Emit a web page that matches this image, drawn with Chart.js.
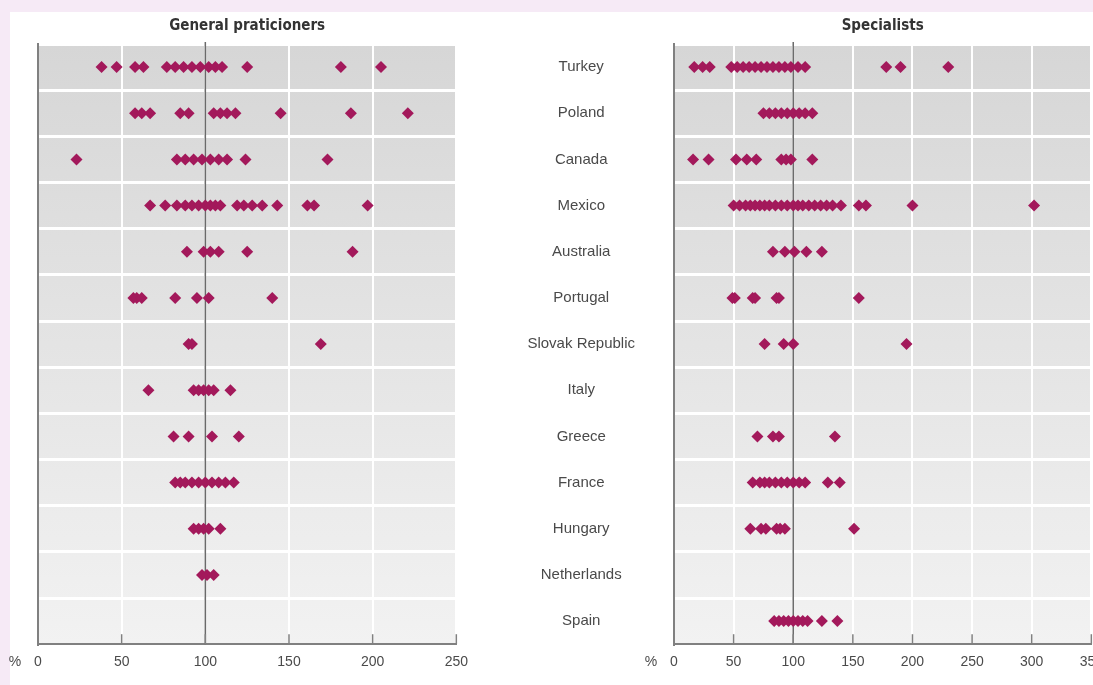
<!DOCTYPE html>
<html>
<head>
<meta charset="utf-8">
<script src="https://cdn.jsdelivr.net/npm/chart.js@4.4.1/dist/chart.umd.min.js"></script>
<style>
    html, body { margin: 0; padding: 0; }
    body { width: 1093px; height: 685px; overflow: hidden; position: relative; background: #f6eaf6; font-family: "Liberation Sans", Arial, sans-serif; }
    #sheet { position: absolute; left: 10px; top: 12px; right: 0; bottom: 0; background: #fff; }
    canvas { position: absolute; top: 0; }
    #gpChart { left: 0; }
    #specChart { left: 470px; }
</style>
</head>
<body>
<div id="sheet"></div>
<canvas id="gpChart" width="478" height="685"></canvas>
<canvas id="specChart" width="643" height="685"></canvas>
<script>
// ---- data (% of national average, one row per country) ----
const countries = ['Turkey', 'Poland', 'Canada', 'Mexico', 'Australia', 'Portugal', 'Slovak Republic',
    'Italy', 'Greece', 'France', 'Hungary', 'Netherlands', 'Spain'];

const gpValues = [
    [38, 47, 58, 63, 77, 82, 87, 92, 97, 102, 106, 110, 125, 181, 205],        // Turkey
    [58, 62, 67, 85, 90, 105, 109, 113, 118, 145, 187, 221],                   // Poland
    [23, 83, 88, 93, 98, 103, 108, 113, 124, 173],                             // Canada
    [67, 76, 83, 88, 92, 96, 100, 103, 106, 109, 119, 123, 128, 134, 143, 161, 165, 197], // Mexico
    [89, 99, 103, 108, 125, 188],                                              // Australia
    [57, 59, 62, 82, 95, 102, 140],                                            // Portugal
    [90, 92, 169],                                                             // Slovak Republic
    [66, 93, 96, 99, 102, 105, 115],                                           // Italy
    [81, 90, 104, 120],                                                        // Greece
    [82, 85, 88, 92, 96, 100, 104, 108, 112, 117],                             // France
    [93, 96, 99, 102, 109],                                                    // Hungary
    [98, 101, 105],                                                            // Netherlands
    []                                                                         // Spain
];

const specValues = [
    [17, 24, 30, 48, 53, 58, 63, 68, 73, 78, 83, 88, 93, 98, 104, 110, 178, 190, 230], // Turkey
    [75, 80, 85, 90, 95, 100, 105, 110, 116],                                  // Poland
    [16, 29, 52, 61, 69, 90, 94, 98, 116],                                     // Canada
    [50, 55, 60, 64, 68, 72, 76, 80, 85, 90, 95, 100, 104, 108, 113, 118, 123, 128, 133, 140, 155, 161, 200, 302], // Mexico
    [83, 93, 101, 111, 124],                                                   // Australia
    [49, 51, 66, 68, 86, 88, 155],                                             // Portugal
    [76, 92, 100, 195],                                                        // Slovak Republic
    [],                                                                        // Italy
    [70, 83, 88, 135],                                                         // Greece
    [66, 72, 76, 80, 85, 90, 95, 100, 105, 110, 129, 139],                     // France
    [64, 73, 77, 86, 89, 93, 151],                                             // Hungary
    [],                                                                        // Netherlands
    [84, 88, 92, 96, 100, 104, 108, 112, 124, 137]                             // Spain
];

const gpTicks = [0, 50, 100, 150, 200, 250];
const specTicks = [0, 50, 100, 150, 200, 250, 300, 350];
const referenceValue = 100;

const MARKER = '#a3195b';
const AXIS = '#808080';
const TEXT = '#4a4a4a';

function toPoints(rows) {
    return rows.flatMap((row, i) => row.map(v => ({ x: v, y: countries[i] })));
}

// grey band background, 100% line, inward tick marks and the % sign
const panelDecor = {
    id: 'panelDecor',
    beforeDraw(chart) {
        const { ctx, chartArea: a } = chart;
        const g = ctx.createLinearGradient(0, a.top, 0, a.bottom);
        g.addColorStop(0, '#d6d6d6');
        g.addColorStop(1, '#f2f2f2');
        ctx.save();
        ctx.fillStyle = g;
        ctx.fillRect(a.left, a.top, a.right - a.left, a.bottom - a.top);
        ctx.restore();
    },
    beforeDatasetsDraw(chart) {
        const { ctx, chartArea: a } = chart;
        const x = chart.scales.x.getPixelForValue(referenceValue);
        ctx.save();
        ctx.strokeStyle = '#6a6a6a';
        ctx.lineWidth = 1.5;
        ctx.beginPath();
        ctx.moveTo(x, a.top - 2);
        ctx.lineTo(x, a.bottom);
        ctx.stroke();
        ctx.restore();
    },
    afterDraw(chart) {
        const { ctx, chartArea: a } = chart;
        const xs = chart.scales.x;
        ctx.save();
        ctx.strokeStyle = AXIS;
        ctx.lineWidth = 1.5;
        xs.ticks.forEach(t => {
            if (t.value === 0) return;
            const x = xs.getPixelForValue(t.value);
            ctx.beginPath();
            ctx.moveTo(x, a.bottom);
            ctx.lineTo(x, a.bottom - 10);
            ctx.stroke();
        });
        ctx.fillStyle = TEXT;
        ctx.font = '14px "Liberation Sans", Arial, sans-serif';
        ctx.textAlign = 'center';
        ctx.textBaseline = 'middle';
        ctx.fillText('%', a.left - 23, a.bottom + 18);
        ctx.restore();
    }
};

function makeChart(canvasId, title, rows, ticks, showCountries) {
    const yAxis = {
        type: 'category',
        labels: countries,
        offset: true,
        border: { display: true, color: AXIS, width: 2 },
        grid: { offset: true, color: '#ffffff', lineWidth: 3, drawTicks: false },
        ticks: {
            display: showCountries,
            crossAlign: 'center',
            padding: 39,
            color: TEXT,
            font: { size: 15, family: '"Liberation Sans", Arial, sans-serif' }
        },
        afterFit: (scale) => {
            // labels sit in the gap between the panels, fixed column width
            scale.width = showCountries ? 204 : 38;
            scale.paddingTop = 0;
            scale.paddingBottom = 0;
        }
    };

    return new Chart(document.getElementById(canvasId), {
        type: 'scatter',
        data: {
            datasets: [{
                data: toPoints(rows),
                pointStyle: 'rectRot',
                pointRadius: 6,
                pointHoverRadius: 6,
                pointBackgroundColor: MARKER,
                pointBorderWidth: 0
            }]
        },
        options: {
            responsive: false,
            animation: false,
            events: [],
            layout: { padding: { top: 5, left: 0, right: 0, bottom: 4 } },
            plugins: {
                legend: { display: false },
                tooltip: { enabled: false },
                title: {
                    display: true,
                    text: title,
                    fullSize: false,
                    color: '#333',
                    font: { size: 15, weight: 'bold', family: '"DejaVu Sans Condensed", "Liberation Sans Narrow", Arial, sans-serif' },
                    padding: { top: 12, bottom: 9 }
                }
            },
            scales: {
                x: {
                    type: 'linear',
                    min: ticks[0],
                    max: ticks[ticks.length - 1],
                    afterBuildTicks: (scale) => { scale.ticks = ticks.map(v => ({ value: v })); },
                    border: { display: true, color: AXIS, width: 2 },
                    grid: { color: '#ffffff', lineWidth: 2, drawTicks: false },
                    ticks: {
                        padding: 10,
                        color: TEXT,
                        font: { size: 14, family: '"Liberation Sans", Arial, sans-serif' }
                    }
                },
                y: yAxis
            }
        },
        plugins: [panelDecor]
    });
}

makeChart('gpChart', 'General praticioners', gpValues, gpTicks, false);
makeChart('specChart', 'Specialists', specValues, specTicks, true);
</script>
</body>
</html>
